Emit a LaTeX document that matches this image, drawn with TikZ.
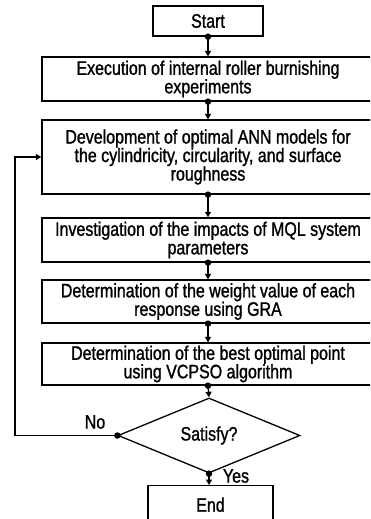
\documentclass[tikz,border=0pt]{standalone}
\usepackage{fontspec}
\setmainfont{Liberation Sans}[FakeStretch=0.82,FakeBold=1.2]
\usetikzlibrary{shapes.geometric,arrows.meta}
\begin{document}
\begin{tikzpicture}[x=1pt,y=-1pt,
  every node/.style={font=\fontsize{19.5}{18.5}\selectfont, inner sep=0pt, align=center},
  stepbox/.style={draw, line width=1.3pt, minimum width=#1},
  conn/.style={line width=1.3pt, -{Triangle[length=5.5pt,width=6pt]}},
  dot/.style={fill, circle, minimum size=6.5pt, inner sep=0pt}]
\useasboundingbox (0,0) rectangle (370,519);
\begin{scope}
\clip (0,0) rectangle (370,519);
\node[stepbox=110pt, minimum height=30pt] (start) at (208,21) {Start};
\node[stepbox=332pt, minimum height=44pt] (b1) at (208,79) {Execution of internal roller burnishing\\experiments};
\node[stepbox=332pt, minimum height=74pt] (b2) at (208,157) {Development of optimal ANN models for\\the cylindricity, circularity, and surface\\roughness};
\node[stepbox=332pt, minimum height=44pt] (b3) at (208,240) {Investigation of the impacts of MQL system\\parameters};
\node[stepbox=332pt, minimum height=43pt] (b4) at (208,301.5) {Determination of the weight value of each\\response using GRA};
\node[stepbox=332pt, minimum height=42pt] (b5) at (208,364) {Determination of the best optimal point\\using VCPSO algorithm};
\node[draw, line width=1.3pt, diamond, minimum width=182pt, minimum height=55pt] (dia) at (209,435.5) {Satisfy?};
\node[stepbox=125pt, minimum height=44pt, anchor=north] (end) at (210.5,485) {\raisebox{6pt}{End}};
\coordinate (lp) at (15,435.5);

\draw[conn] (start.south) -- (b1.north);
\draw[conn] (b1.south) -- (b2.north);
\draw[conn] (b2.south) -- (b3.north);
\draw[conn] (b3.south) -- (b4.north);
\draw[conn] (b4.south) -- (b5.north);
\draw[conn] (b5.south) -- (dia.north);
\draw[conn] (dia.south) -- (dia.south |- end.north);
\draw[conn] (dia.west) -- (lp) |- (b2.west);
\foreach \n in {start,b1,b2,b3,b4,b5,dia}{\node[dot] at (\n.south) {};}
\node[dot] at (dia.west) {};
\node (no) at (95,422) {No};
\node (yes) at (236,476) {Yes};
\end{scope}
\end{tikzpicture}
\end{document}
